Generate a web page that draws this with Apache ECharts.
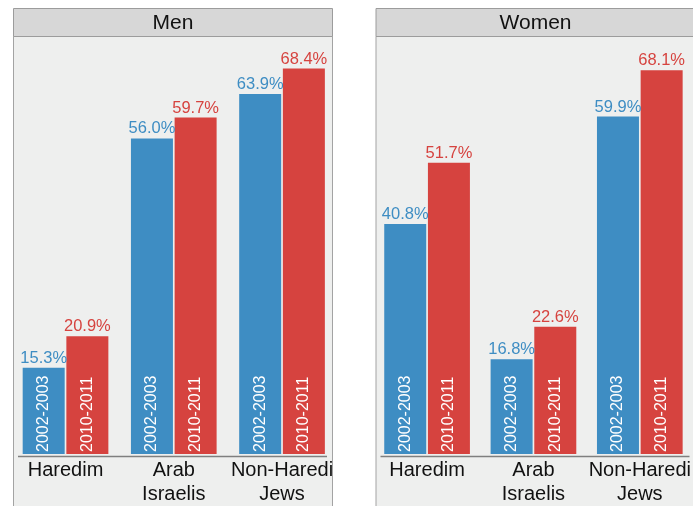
<!DOCTYPE html>
<html><head><meta charset="utf-8">
<script src="https://cdn.jsdelivr.net/npm/echarts@6/dist/echarts.min.js"></script>
<style>html,body{margin:0;padding:0;background:#fff}#c{width:693px;height:506px}</style>
</head><body><div id="c"></div>
<script>
const categories = ['Haredim', 'Arab\nIsraelis', 'Non-Haredi\nJews'];
const panels = ['Men', 'Women'];
const periods = ['2002-2003', '2010-2011'];
const men2002 = [15.3, 56.0, 63.9];
const men2010 = [20.9, 59.7, 68.4];
const women2002 = [40.8, 16.8, 59.9];
const women2010 = [51.7, 22.6, 68.1];

const FONT = '"Liberation Sans", Arial, Helvetica, sans-serif';
const BLUE = '#3e8dc3', RED = '#d6433f';
const chart = echarts.init(document.getElementById('c'));

const panelX = [13.5, 376];
const offs = [0, 362.5];
const gridLeft = 11.4, gridW = 324.75, gridTop = 37, gridH = 419.5, yMax = 74;

const grids = [], xAxes = [], yAxes = [], series = [], graphics = [];
const data = [[men2002, men2010], [women2002, women2010]];
const colors = [BLUE, RED];

panels.forEach((p, i) => {
  grids.push({left: gridLeft + offs[i], top: gridTop, width: gridW, height: gridH});
  xAxes.push({type: 'category', gridIndex: i, data: categories,
    axisLine: {show: false}, axisTick: {show: false},
    axisLabel: {interval: 0, fontFamily: FONT, fontSize: 20, color: '#111', lineHeight: 24, margin: 4}});
  xAxes.push({type: 'category', gridIndex: i, data: categories, show: false});
  yAxes.push({type: 'value', gridIndex: i, min: 0, max: yMax, show: false, splitLine: {show: false}});
  data[i].forEach((vals, k) => {
    series.push({type: 'bar', name: periods[k], xAxisIndex: 2 * i, yAxisIndex: i, data: vals,
      barWidth: 42, barGap: '4%', itemStyle: {color: colors[k]},
      label: {show: true, position: 'top', distance: 1, fontFamily: FONT, fontSize: 16.5,
        color: colors[k], formatter: d => d.value.toFixed(1) + '%'}});
  });
  data[i].forEach((vals, k) => {
    series.push({type: 'bar', name: periods[k] + ' label', xAxisIndex: 2 * i + 1, yAxisIndex: i, data: vals,
      barWidth: 42, barGap: '4%', itemStyle: {color: 'rgba(0,0,0,0)'}, silent: true,
      label: {show: true, position: 'insideBottom', rotate: 90, align: 'left', verticalAlign: 'middle',
        distance: 2, fontFamily: FONT, fontSize: 16, color: '#fff', formatter: periods[k]}});
  });
  const px = panelX[i];
  graphics.push({type: 'rect', z: -10, shape: {x: px, y: 36.5, width: 319, height: 480},
    style: {fill: '#eeefee', stroke: '#a3a3a3', lineWidth: 1}});
  graphics.push({type: 'rect', z: -9, shape: {x: px, y: 8.5, width: 319, height: 28},
    style: {fill: '#d7d7d7', stroke: '#9c9c9c', lineWidth: 1}});
  graphics.push({type: 'text', z: -8, x: px + 159.5, y: 23,
    style: {text: p, fill: '#111', fontFamily: FONT, fontSize: 21, align: 'center', verticalAlign: 'middle'}});
  graphics.push({type: 'line', z: 5, shape: {x1: 18 + offs[i], y1: 456.5, x2: 327 + offs[i], y2: 456.5},
    style: {stroke: '#7f7f7f', lineWidth: 1.5}});
});

chart.setOption({
  animation: false,
  backgroundColor: '#ffffff',
  grid: grids, xAxis: xAxes, yAxis: yAxes, series: series, graphic: graphics
});
</script></body></html>
